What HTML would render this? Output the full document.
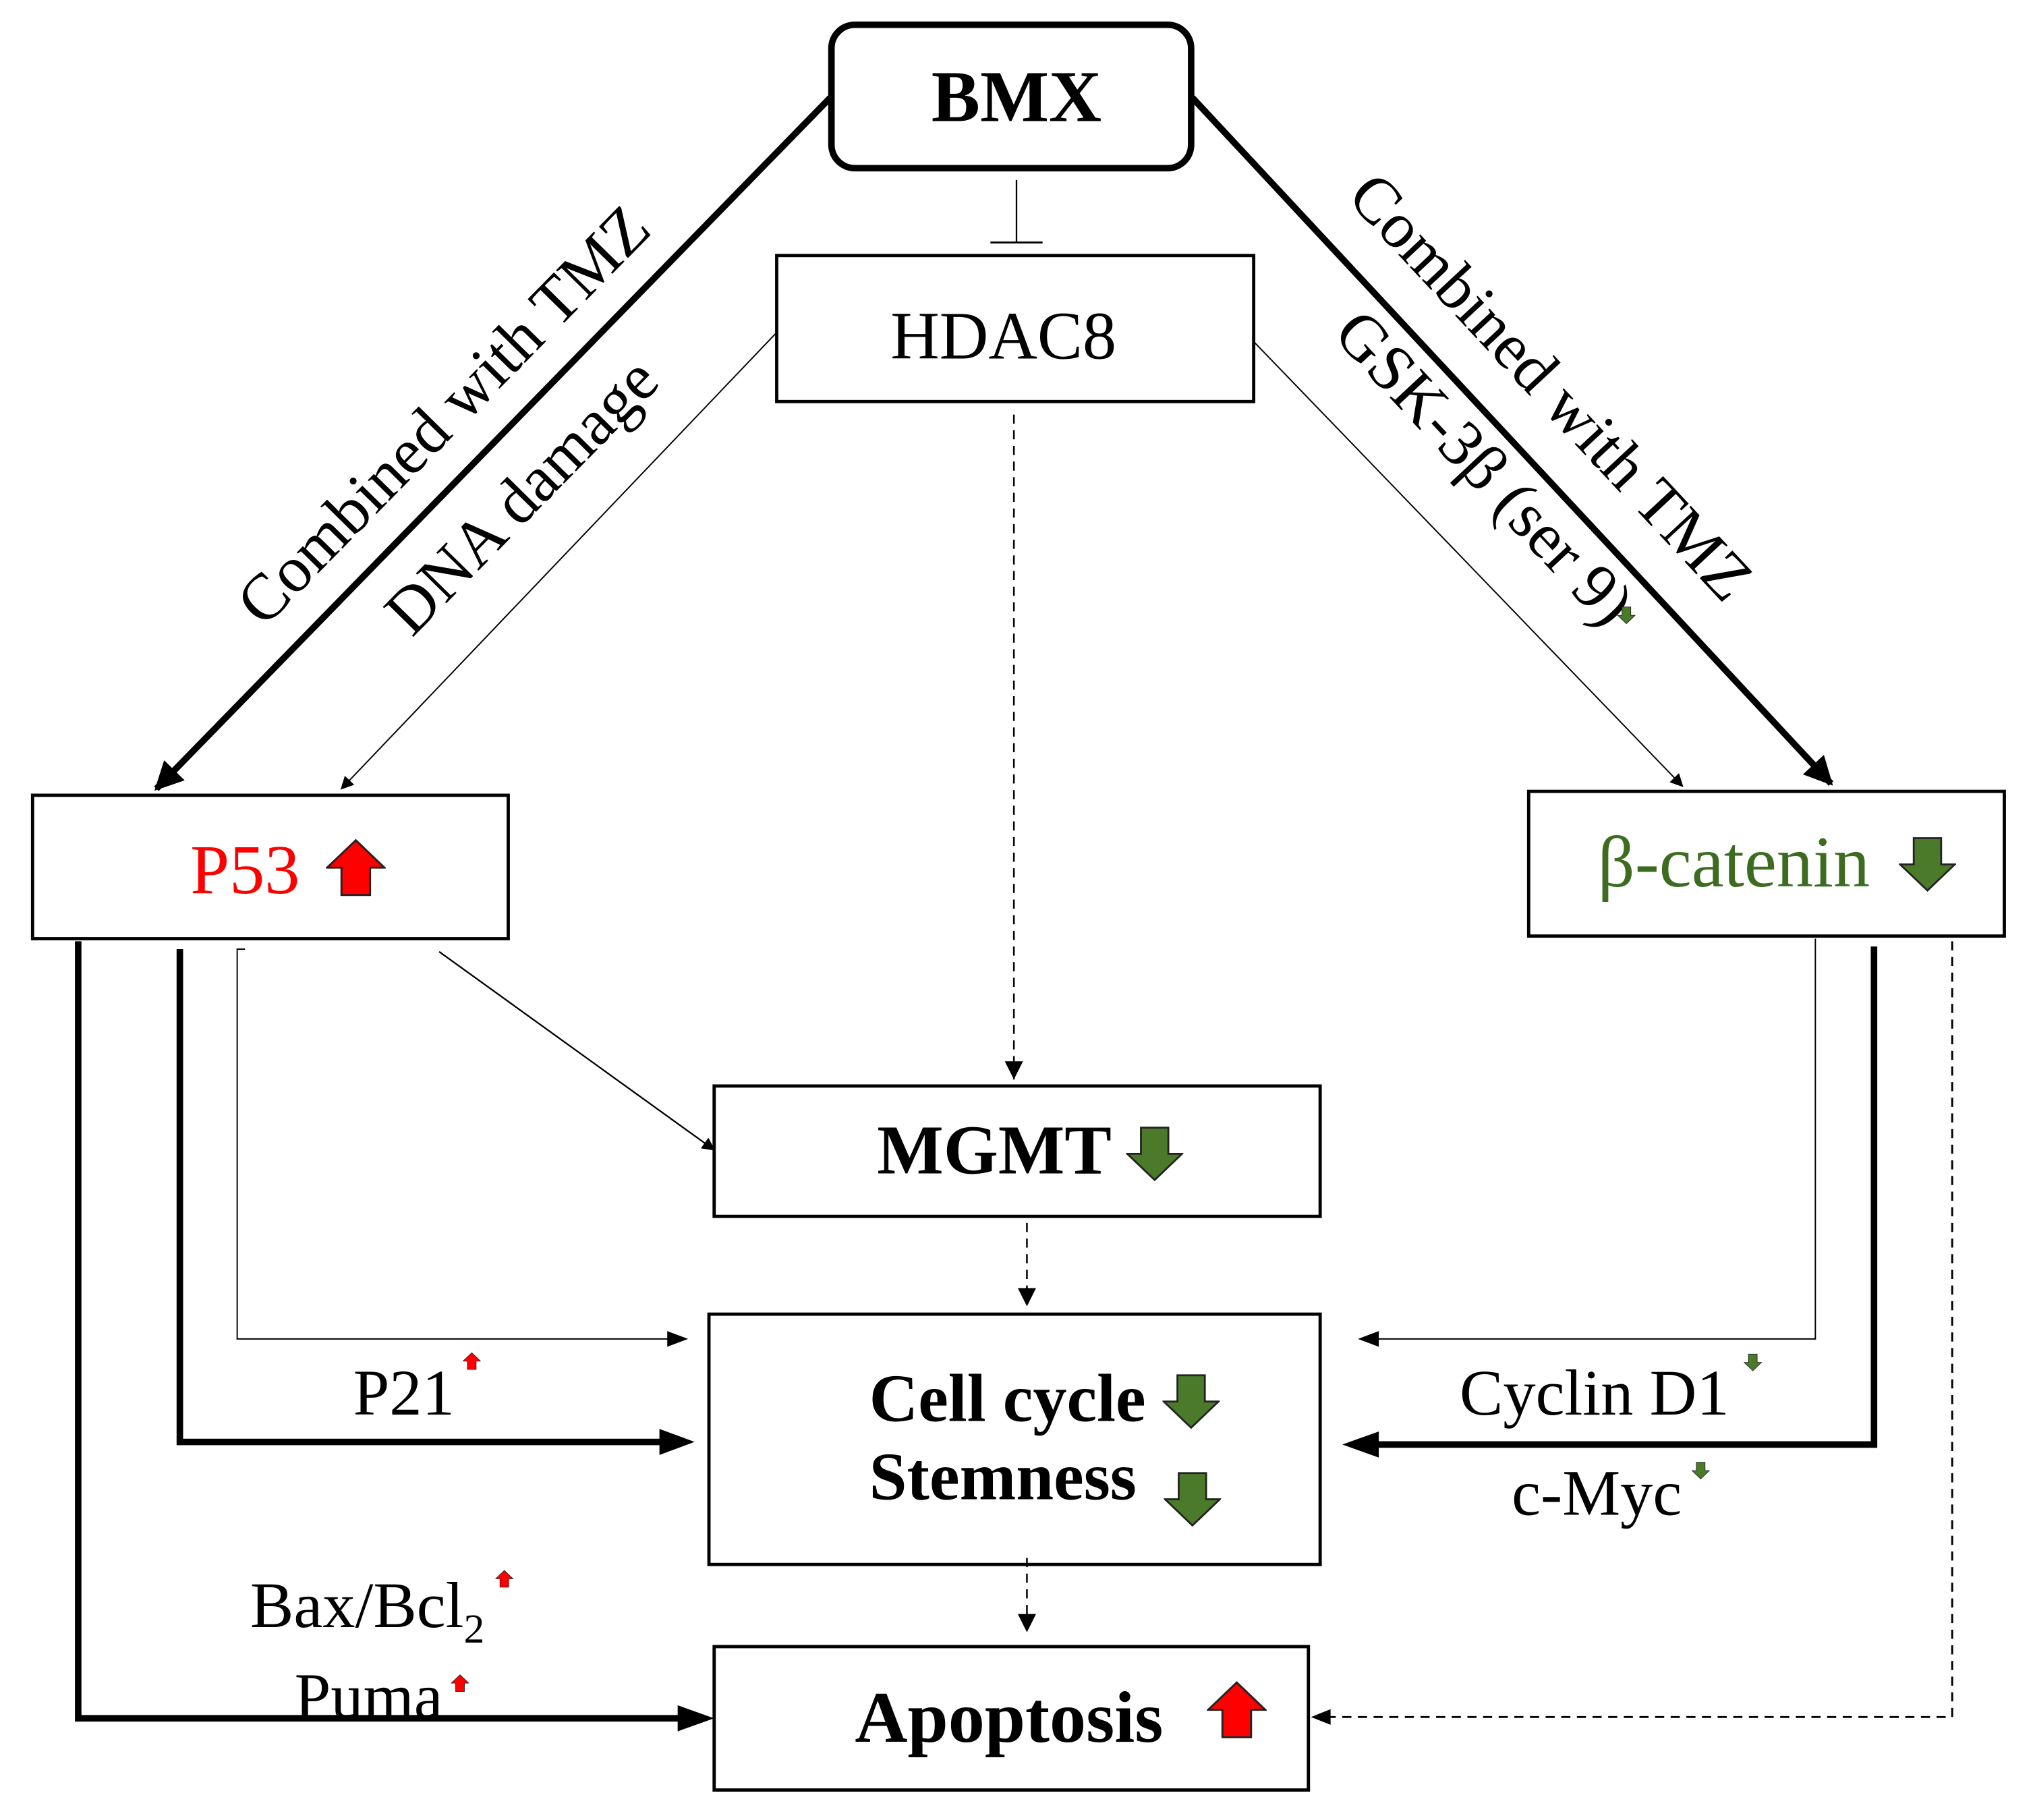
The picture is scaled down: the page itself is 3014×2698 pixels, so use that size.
<!DOCTYPE html>
<html><head><meta charset="utf-8"><style>html,body{margin:0;padding:0;background:#fff}svg{display:block}text{font-family:"Liberation Serif",serif}</style></head><body>
<svg width="3014" height="2698" viewBox="0 0 1560 1396" preserveAspectRatio="none" xmlns="http://www.w3.org/2000/svg">
<defs>
<marker id="ab" viewBox="0 0 10 10" refX="9" refY="5" markerWidth="14" markerHeight="10" orient="auto" markerUnits="userSpaceOnUse"><path d="M0,0 L10,5 L0,10 z" fill="#000"/></marker>
<marker id="at" viewBox="0 0 10 10" refX="9" refY="5" markerWidth="26" markerHeight="22" orient="auto" markerUnits="userSpaceOnUse"><path d="M0,0 L10,5 L0,10 z" fill="#000"/></marker>
<symbol id="up" viewBox="0 0 46 44"><path d="M23,1 L45,22 L34,22 L34,43 L12,43 L12,22 L1,22 z" stroke="#222" stroke-width="1.5"/></symbol>
</defs>
<rect width="1560" height="1396" fill="#fff"/>
<rect x="638" y="19" width="276" height="110" rx="18" fill="none" stroke="#000" stroke-width="5"/>
<text x="780" y="93" font-size="56" font-weight="bold" text-anchor="middle">BMX</text>
<line x1="780" y1="138" x2="780" y2="186" stroke="#000" stroke-width="1.2"/>
<line x1="760" y1="186" x2="800" y2="186" stroke="#000" stroke-width="1.5"/>
<rect x="596" y="196" width="366" height="112" fill="none" stroke="#000" stroke-width="2.5"/>
<text x="770" y="275" font-size="52" text-anchor="middle">HDAC8</text>
<rect x="25" y="610" width="365" height="110" fill="none" stroke="#000" stroke-width="2.5"/>
<text x="146" y="685" font-size="54" fill="#ff0000">P53</text>
<use href="#up" x="250" y="643" width="46" height="45" fill="#ff0000"/>
<rect x="1173" y="607" width="365" height="111" fill="none" stroke="#000" stroke-width="2.5"/>
<text x="1226" y="680" font-size="56" fill="#3d6b1f">β-catenin</text>
<use href="#up" x="1457" y="640" width="44" height="46" fill="#4a7a2a" transform="rotate(180 1479 663)"/>
<rect x="548" y="833" width="465" height="100" fill="none" stroke="#000" stroke-width="2.5"/>
<text x="673" y="900" font-size="54" font-weight="bold">MGMT</text>
<use href="#up" x="864" y="862" width="44" height="46" fill="#4a7a2a" transform="rotate(180 886 885)"/>
<rect x="544" y="1008" width="469" height="192" fill="none" stroke="#000" stroke-width="2.5"/>
<text x="667" y="1090" font-size="52" font-weight="bold">Cell cycle</text>
<use href="#up" x="892" y="1052" width="44" height="46" fill="#4a7a2a" transform="rotate(180 914 1075)"/>
<text x="667" y="1150" font-size="52" font-weight="bold">Stemness</text>
<use href="#up" x="893" y="1127" width="44" height="46" fill="#4a7a2a" transform="rotate(180 915 1150)"/>
<rect x="548" y="1263" width="456" height="110" fill="none" stroke="#000" stroke-width="2.5"/>
<text x="656" y="1336" font-size="56" font-weight="bold">Apoptosis</text>
<use href="#up" x="926" y="1289" width="46" height="45" fill="#ff0000"/>
<line x1="637" y1="75" x2="120" y2="605" stroke="#000" stroke-width="5" marker-end="url(#at)"/>
<line x1="915" y1="75" x2="1405" y2="601" stroke="#000" stroke-width="5" marker-end="url(#at)"/>
<line x1="596" y1="255" x2="262" y2="605" stroke="#000" stroke-width="1" marker-end="url(#ab)"/>
<line x1="962" y1="262" x2="1291" y2="603" stroke="#000" stroke-width="1" marker-end="url(#ab)"/>
<path d="M778,318 L778,828" stroke="#000" stroke-width="1.3" stroke-dasharray="7,5" fill="none"/>
<path d="M771,814 L778,828 L785,814 z"/>
<path d="M788,938 L788,1000" stroke="#000" stroke-width="1.3" stroke-dasharray="7,5" fill="none"/>
<path d="M781,988 L788,1002 L795,988 z"/>
<path d="M788,1195 L788,1250" stroke="#000" stroke-width="1.3" stroke-dasharray="7,5" fill="none"/>
<path d="M781,1238 L788,1252 L795,1238 z"/>
<text transform="translate(352,330) rotate(-45.5)" font-size="50" text-anchor="middle">Combined with  TMZ</text>
<text transform="translate(412,392) rotate(-45.5)" font-size="50" text-anchor="middle">DNA damage</text>
<text transform="translate(1178,308) rotate(47)" font-size="50" text-anchor="middle">Combined with TMZ</text>
<text transform="translate(1127,370) rotate(47)" font-size="50" text-anchor="middle">GSK-3β (ser 9)</text>
<use href="#up" x="1241" y="465" width="14" height="14" fill="#4a7a2a" transform="rotate(180 1248 472)"/>
<path d="M60,722 L60,1318 L540,1318" stroke="#000" stroke-width="5" fill="none"/>
<path d="M520,1308 L548,1318 L520,1328 z"/>
<path d="M138,728 L138,1106 L525,1106" stroke="#000" stroke-width="5" fill="none"/>
<path d="M506,1096 L533,1106 L506,1116 z"/>
<path d="M188,728 L182,728 L182,1027 L520,1027" stroke="#000" stroke-width="1" fill="none"/>
<path d="M512,1021 L528,1027 L512,1033 z"/>
<line x1="337" y1="730" x2="548" y2="882" stroke="#000" stroke-width="1.2" marker-end="url(#ab)"/>
<path d="M1393,720 L1393,1027 L1050,1027" stroke="#000" stroke-width="1" fill="none"/>
<path d="M1058,1021 L1042,1027 L1058,1033 z"/>
<path d="M1438,726 L1438,1108 L1040,1108" stroke="#000" stroke-width="5" fill="none"/>
<path d="M1058,1098 L1030,1108 L1058,1118 z"/>
<path d="M1498,722 L1498,1317 L1015,1317" stroke="#000" stroke-width="1.5" stroke-dasharray="7,5" fill="none"/>
<path d="M1021,1311 L1006,1317 L1021,1323 z"/>
<text x="271" y="1085" font-size="50">P21</text>
<use href="#up" x="355" y="1037" width="14" height="14" fill="#ff0000"/>
<text x="192" y="1248" font-size="50">Bax/Bcl<tspan font-size="32" dy="12">2</tspan></text>
<use href="#up" x="380" y="1204" width="14" height="14" fill="#ff0000"/>
<text x="226" y="1318" font-size="50">Puma</text>
<use href="#up" x="346" y="1284" width="14" height="14" fill="#ff0000"/>
<text x="1120" y="1085" font-size="50">Cyclin D1</text>
<use href="#up" x="1338" y="1038" width="14" height="14" fill="#4a7a2a" transform="rotate(180 1345 1045)"/>
<text x="1160" y="1162" font-size="50">c-Myc</text>
<use href="#up" x="1298" y="1121" width="14" height="14" fill="#4a7a2a" transform="rotate(180 1305 1128)"/>
</svg>
</body></html>
